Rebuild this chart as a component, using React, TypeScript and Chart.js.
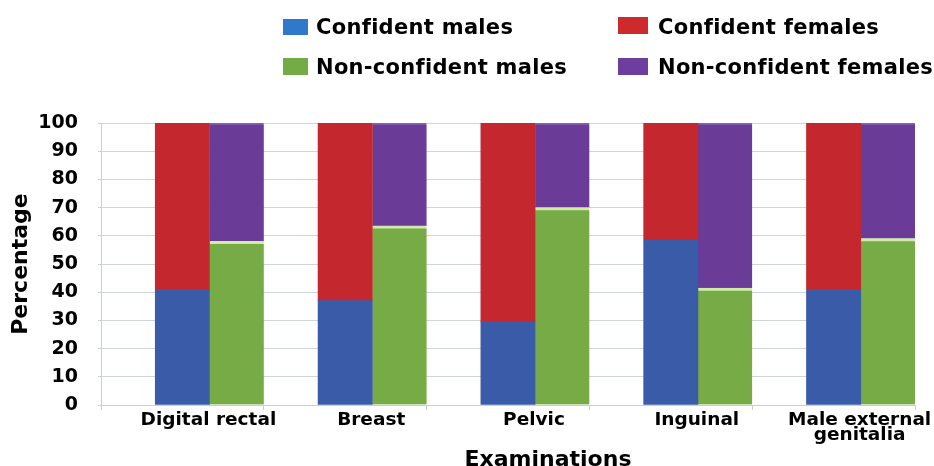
import React, { useEffect, useRef } from 'react';
import { Chart, registerables } from 'chart.js';

Chart.register(...registerables);

// ---- Data ----
const categories: (string | string[])[] = [
  'Digital rectal',
  'Breast',
  'Pelvic',
  'Inguinal',
  ['Male external', 'genitalia'],
];
const confidentMales = [41, 37, 29.5, 58.5, 41];
const confidentFemales = [59, 63, 70.5, 41.5, 59];
const nonConfidentMales = [58, 63.5, 70, 41.5, 59];
const nonConfidentFemales = [42, 36.5, 30, 58.5, 41];
const seriesNames = ['Confident males', 'Confident females', 'Non-confident males', 'Non-confident females'];
const yMin = 0;
const yMax = 100;
const yStep = 10;
const xTitle = 'Examinations';
const yTitle = 'Percentage';

// ---- Styles ----
const barColors = ['#3a5ca8', '#c4282e', '#76ab45', '#6b3b98'];
const legendColors = ['#2f78cb', '#cc2a2c', '#74ab44', '#6d3e9e'];
const FONT = "'DejaVu Sans', sans-serif";

export default function App() {
  const canvasRef = useRef<HTMLCanvasElement | null>(null);

  useEffect(() => {
    document.body.style.margin = '0';
    document.documentElement.style.overflow = 'hidden';
    const canvas = canvasRef.current;
    if (!canvas) return;
    const seriesData = [confidentMales, confidentFemales, nonConfidentMales, nonConfidentFemales];
    const stacks = ['confident', 'confident', 'nonconfident', 'nonconfident'];
    const datasets: any[] = [
      {
        label: '',
        data: categories.map(() => null),
        stack: 'spacer',
        backgroundColor: 'rgba(0,0,0,0)',
      },
      ...seriesNames.map((name, i) => ({
        label: name,
        data: seriesData[i],
        stack: stacks[i],
        backgroundColor: barColors[i],
        borderColor: i === 2 ? '#d2ebaa' : i === 3 ? '#8462b0' : barColors[i],
        borderWidth: i === 2 ? { top: 3, left: 0, right: 0, bottom: 0 } : i === 3 ? { top: 2, left: 0, right: 0, bottom: 0 } : 0,
        borderSkipped: false,
      })),
    ];

    const chart = new Chart(canvas, {
      type: 'bar',
      data: { labels: categories as any, datasets },
      options: {
        responsive: false,
        animation: false,
        devicePixelRatio: 1,
        layout: { padding: { top: 115, right: 19, bottom: 0, left: 0 } },
        plugins: {
          legend: { display: false },
          tooltip: { enabled: false },
        },
        datasets: {
          bar: { categoryPercentage: 1, barPercentage: 1 },
        },
        scales: {
          x: {
            stacked: true,
            grid: {
              drawOnChartArea: false,
              drawTicks: true,
              tickLength: 5,
              color: '#c9ced6',
            },
            border: { color: '#c9ced6' },
            ticks: {
              autoSkip: false,
              maxRotation: 0,
              minRotation: 0,
              padding: 3,
              labelOffset: 26,
              color: '#000',
              font: { family: FONT, size: 18.5, weight: 'bold', lineHeight: 0.8 },
            },
            afterFit: (s: any) => {
              s.height = 61;
            },
          },
          y: {
            stacked: true,
            min: yMin,
            max: yMax,
            ticks: {
              stepSize: yStep,
              padding: 20,
              color: '#000',
              font: { family: FONT, size: 19, weight: 'bold' },
            },
            grid: { color: '#cfd3da', tickLength: 3 },
            border: { color: '#c9ced6' },
            title: {
              display: true,
              text: yTitle,
              color: '#000',
              padding: 0,
              font: { family: FONT, size: 22, weight: 'bold' },
            },
            afterFit: (s: any) => {
              s.width = 93;
            },
          },
        },
      },
    });
    return () => chart.destroy();
  }, []);

  const legendPos = [
    { box: { left: 275, top: 11, w: 25, h: 16 }, text: { left: 308, top: 9 } },
    { box: { left: 610, top: 9, w: 30, h: 17 }, text: { left: 650, top: 9 } },
    { box: { left: 275, top: 50, w: 25, h: 17 }, text: { left: 308, top: 49 } },
    { box: { left: 610, top: 50, w: 30, h: 17 }, text: { left: 650, top: 49 } },
  ];

  return (
    <div style={{ position: 'relative', width: 934, height: 466, overflow: 'hidden', background: '#fff' }}>
      <div style={{ position: 'absolute', left: 8, top: 8, width: 926, height: 458 }}>
        <canvas ref={canvasRef} width={926} height={458} style={{ display: 'block', position: 'absolute', left: 0, top: 0 }} />
        {seriesNames.map((name, i) => (
          <React.Fragment key={name}>
            <div
              style={{
                position: 'absolute',
                left: legendPos[i].box.left,
                top: legendPos[i].box.top,
                width: legendPos[i].box.w,
                height: legendPos[i].box.h,
                background: legendColors[i],
              }}
            />
            <div
              style={{
                position: 'absolute',
                left: legendPos[i].text.left,
                top: legendPos[i].text.top,
                font: `bold 21px ${FONT}`,
                lineHeight: '21px',
                letterSpacing: '0.3px',
                color: '#000',
                whiteSpace: 'nowrap',
              }}
            >
              {name}
            </div>
          </React.Fragment>
        ))}
        <div
          style={{
            position: 'absolute',
            left: 540,
            top: 440,
            transform: 'translateX(-50%)',
            font: `bold 22px ${FONT}`,
            lineHeight: '22px',
            color: '#000',
            whiteSpace: 'nowrap',
          }}
        >
          {xTitle}
        </div>
      </div>
    </div>
  );
}
